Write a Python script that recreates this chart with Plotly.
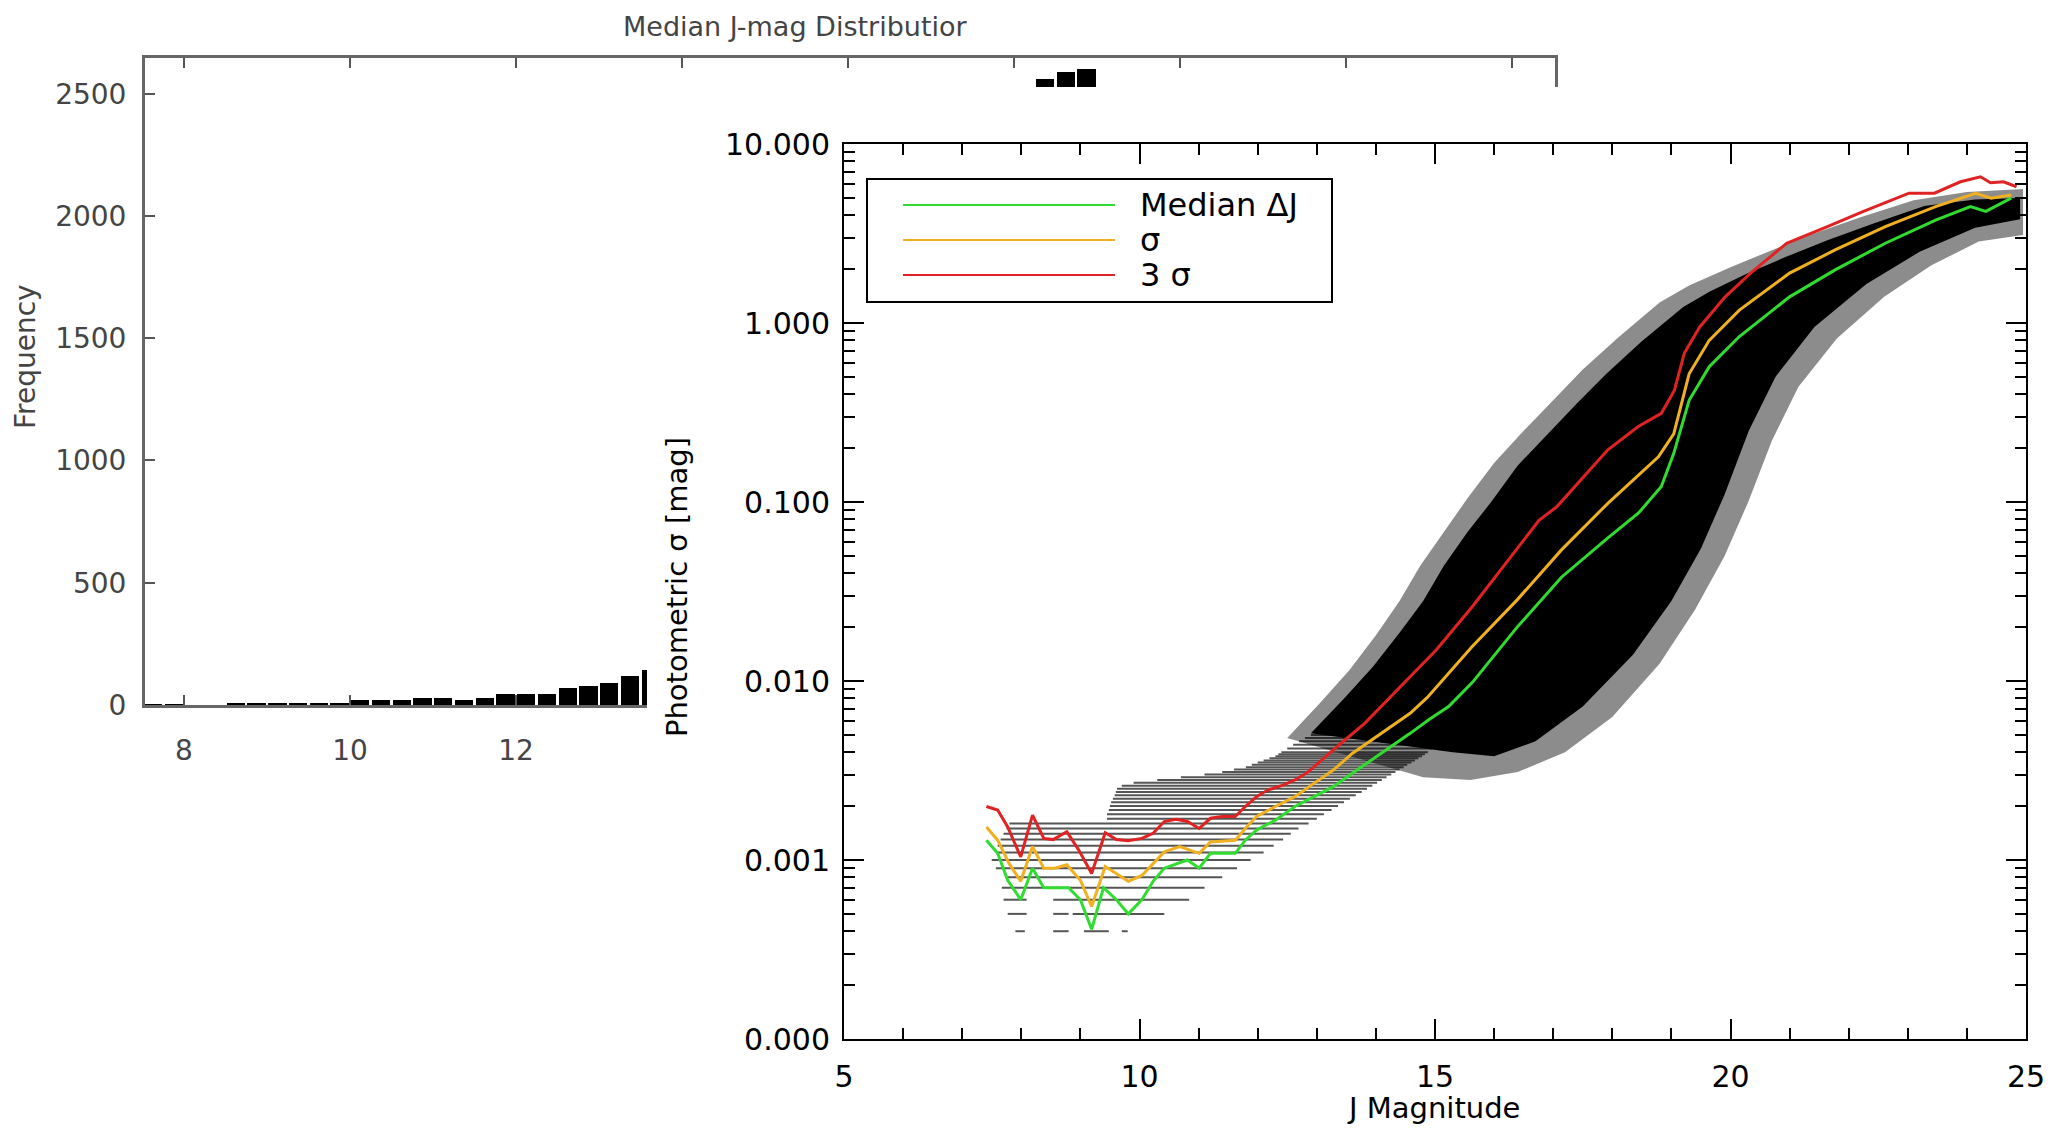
import plotly.graph_objects as go

# ---------------- Data ----------------
# Histogram (only the bins that are visible in the picture)
hist_bin_left = [7.5, 7.75, 8.5, 8.75, 9.0, 9.25, 9.5, 9.75,
                 10.0, 10.25, 10.5, 10.75, 11.0, 11.25, 11.5, 11.75,
                 12.0, 12.25, 12.5, 12.75, 13.0, 13.25, 13.5,
                 18.25, 18.5, 18.75]
hist_count = [4, 4, 5, 5, 5, 5, 5, 5,
              20, 20, 20, 30, 30, 20, 30, 45,
              45, 45, 70, 78, 88, 120, 143,
              2560, 2589, 2601]

# Curves
red_x = [7.41, 7.60, 7.77, 7.99, 8.19, 8.38, 8.54, 8.77, 8.97, 9.19, 9.42, 9.61, 9.81,
         10.04, 10.23, 10.42, 10.62, 10.81, 11.01, 11.20, 11.40, 11.62, 11.79, 11.98,
         12.17, 12.43, 12.63, 12.82, 13.02, 13.21, 13.41, 13.81, 14.42, 15.02, 15.63,
         16.23, 16.76, 17.06, 17.92, 18.44, 18.83, 19.05, 19.22, 19.48, 19.91, 20.34,
         20.95, 21.64, 22.24, 23.02, 23.45, 23.89, 24.23, 24.40, 24.62, 24.84]
red_y = [0.00199, 0.0019, 0.00153, 0.00104, 0.00178, 0.00132, 0.0013, 0.00144, 0.00114,
         0.00084, 0.00142, 0.0013, 0.00128, 0.00132, 0.00141, 0.00164, 0.00169, 0.00164,
         0.0015, 0.00171, 0.00175, 0.00175, 0.00199, 0.00226, 0.00246, 0.00262, 0.0028,
         0.00305, 0.00347, 0.00394, 0.00449, 0.0058, 0.0093, 0.0149, 0.026, 0.047, 0.079,
         0.094, 0.195, 0.264, 0.313, 0.42, 0.68, 0.95, 1.40, 1.90, 2.79, 3.45, 4.19, 5.31,
         5.31, 6.15, 6.56, 6.08, 6.15, 5.77]

orange_x = [7.41, 7.60, 7.79, 7.99, 8.19, 8.38, 8.57, 8.77, 9.00, 9.19, 9.42, 9.61, 9.81,
            10.04, 10.23, 10.42, 10.68, 11.01, 11.20, 11.62, 11.79, 11.98, 12.30, 12.63,
            12.95, 13.28, 13.60, 13.93, 14.25, 14.58, 14.87, 15.63, 16.39, 17.14, 17.92,
            18.78, 19.04, 19.30, 19.64, 20.15, 21.00, 21.77, 22.62, 23.47, 24.15, 24.41, 24.75]
orange_y = [0.00153, 0.00129, 0.00096, 0.00076, 0.00119, 0.0009, 0.0009, 0.00094, 0.00077,
            0.00055, 0.00092, 0.00084, 0.00076, 0.00082, 0.00096, 0.00111, 0.00119, 0.00109,
            0.00126, 0.00129, 0.0015, 0.00175, 0.00199, 0.00226, 0.00268, 0.00318, 0.00394,
            0.00468, 0.00556, 0.0066, 0.0081, 0.0156, 0.0284, 0.054, 0.098, 0.179, 0.24,
            0.52, 0.80, 1.18, 1.90, 2.56, 3.45, 4.47, 5.31, 4.98, 5.19]

green_x = [7.41, 7.60, 7.77, 7.99, 8.19, 8.38, 8.80, 9.00, 9.19, 9.39, 9.61, 9.81, 10.04,
           10.23, 10.42, 10.81, 11.01, 11.20, 11.62, 11.79, 11.98, 12.30, 12.63, 12.95,
           13.28, 13.60, 13.93, 14.25, 14.58, 14.90, 15.23, 15.63, 16.39, 17.14, 17.90,
           18.44, 18.83, 19.04, 19.30, 19.64, 20.15, 21.00, 21.77, 22.62, 23.47, 24.06,
           24.32, 24.75]
green_y = [0.00129, 0.00109, 0.00077, 0.0006, 0.0009, 0.0007, 0.0007, 0.0006, 0.00041,
           0.0007, 0.0006, 0.0005, 0.0006, 0.00076, 0.0009, 0.001, 0.0009, 0.00109, 0.00109,
           0.00129, 0.00147, 0.00167, 0.00199, 0.00226, 0.00257, 0.00305, 0.00362, 0.0043,
           0.0051, 0.0061, 0.0072, 0.0098, 0.020, 0.038, 0.062, 0.0865, 0.122, 0.187, 0.37,
           0.57, 0.84, 1.40, 1.98, 2.79, 3.76, 4.47, 4.2, 4.98]

# Dense point cloud envelope
core_upper_x = [12.9, 13.45, 13.95, 14.4, 14.8, 15.15, 15.55, 15.95, 16.4, 16.9, 17.4, 17.9,
                18.5, 19.2, 19.65, 20.3, 20.95, 21.64, 22.42, 23.28, 24.14, 24.9]
core_upper_y = [0.0051, 0.0079, 0.012, 0.0186, 0.028, 0.044, 0.068, 0.10, 0.16, 0.24, 0.355,
                0.52, 0.79, 1.23, 1.5, 1.9, 2.35, 2.9, 3.6, 4.5, 4.9, 5.0]
core_lower_x = [24.9, 24.14, 23.2, 22.3, 21.42, 20.76, 20.31, 19.9, 19.5, 19.0, 18.35, 17.5,
                16.7, 16.0, 15.3]
core_lower_y = [3.8, 3.4, 2.5, 1.65, 0.95, 0.5, 0.25, 0.11, 0.055, 0.028, 0.014, 0.0072,
                0.0046, 0.0038, 0.0040]

# Speckled outer fringe of the cloud
halo_upper_x = [12.5, 13.05, 13.55, 14.0, 14.4, 14.75, 15.15, 15.55, 16.0, 16.5, 17.0, 17.5,
                18.1, 18.8, 19.3, 20.0, 20.7, 21.4, 22.2, 23.1, 24.0, 24.95]
halo_upper_y = [0.0048, 0.0075, 0.0115, 0.018, 0.028, 0.044, 0.068, 0.105, 0.165, 0.25, 0.37,
                0.55, 0.83, 1.3, 1.62, 2.05, 2.55, 3.15, 3.9, 4.85, 5.4, 5.6]
halo_lower_x = [24.95, 24.2, 23.4, 22.6, 21.8, 21.15, 20.7, 20.3, 19.9, 19.4, 18.8, 18.0,
                17.2, 16.4, 15.6, 14.8]
halo_lower_y = [3.1, 2.85, 2.1, 1.4, 0.82, 0.44, 0.22, 0.1, 0.05, 0.025, 0.0125, 0.0063,
                0.0040, 0.0031, 0.0028, 0.0029]

# Quantised low-error streaks: level, start, end
streak_sigma = [0.0004, 0.0004, 0.0004, 0.0004, 0.0005, 0.0005, 0.0005, 0.0006, 0.0006,
                0.0007, 0.0008, 0.0009, 0.0010, 0.0011, 0.0012, 0.0013, 0.0014, 0.0015,
                0.0016, 0.0017, 0.0018, 0.0019, 0.0020, 0.0021, 0.0022, 0.0023, 0.0024,
                0.0025, 0.0026, 0.0027, 0.0028, 0.0029, 0.0030, 0.0031, 0.0032, 0.0033,
                0.0034, 0.0035, 0.0036, 0.0037, 0.0038, 0.0039, 0.0040, 0.0042, 0.0044,
                0.0046, 0.0048, 0.0050]
streak_x0 = [7.90, 8.54, 9.06, 9.70, 7.77, 8.54, 8.87, 7.70, 8.54,
             7.67, 7.77, 7.57, 7.50, 7.60, 7.60, 7.65, 7.70, 7.75,
             7.80, 9.45, 9.45, 9.48, 9.50, 9.52, 9.55, 9.58, 9.60,
             9.62, 9.70, 9.90, 10.30, 10.70, 11.10, 11.40, 11.60, 11.80,
             11.90, 12.00, 12.10, 12.20, 12.30, 12.35, 12.40, 12.50, 12.60,
             12.70, 12.80, 12.90]
streak_x1 = [8.06, 8.80, 9.48, 9.80, 8.09, 8.80, 10.42, 8.09, 10.84,
             11.10, 11.40, 11.65, 11.88, 12.10, 12.27, 12.43, 12.56, 12.69,
             12.86, 13.00, 13.12, 13.25, 13.36, 13.46, 13.56, 13.66, 13.76,
             13.85, 13.94, 14.02, 14.10, 14.18, 14.26, 14.33, 14.40, 14.47,
             14.53, 14.60, 14.66, 14.72, 14.78, 14.83, 14.88, 14.95, 15.00,
             15.05, 15.08, 15.10]

# Tick labels
hist_xticks = [8, 10, 12, 14, 16, 18, 20, 22, 24]
hist_yticks = [0, 500, 1000, 1500, 2000, 2500]
sc_xticks = [5, 10, 15, 20, 25]
sc_yticks = [0.0001, 0.001, 0.01, 0.1, 1, 10]
sc_yticktext = ["0.000", "0.001", "0.010", "0.100", "1.000", "10.000"]
sc_yminor = [m * d for d in [0.0001, 0.001, 0.01, 0.1, 1] for m in range(2, 10)]

FONT = "DejaVu Sans"
GREEN = "#2fdc2f"
ORANGE = "#f0b020"
RED = "#e02222"

fig = go.Figure()

# histogram
fig.add_trace(go.Bar(x=hist_bin_left, y=hist_count, offset=0.015, width=0.22,
                     marker=dict(color="black", line=dict(width=0)),
                     xaxis="x", yaxis="y", hoverinfo="skip"))

# cover panel (white background pasted over the histogram)
fig.add_trace(go.Scatter(x=[0.5], y=[0.5], mode="markers", marker=dict(opacity=0),
                         xaxis="x2", yaxis="y2", hoverinfo="skip"))

# streaks
sx, sy = [], []
for lvl, a, b in zip(streak_sigma, streak_x0, streak_x1):
    sx += [a, b, None]
    sy += [lvl, lvl, None]
fig.add_trace(go.Scatter(x=sx, y=sy, mode="lines", line=dict(color="#555555", width=2),
                         xaxis="x3", yaxis="y3", hoverinfo="skip"))

# cloud fringe & core
fig.add_trace(go.Scatter(x=halo_upper_x + halo_lower_x, y=halo_upper_y + halo_lower_y,
                         fill="toself", fillcolor="rgba(0,0,0,0.45)", mode="lines",
                         line=dict(width=0), xaxis="x3", yaxis="y3", hoverinfo="skip"))
fig.add_trace(go.Scatter(x=core_upper_x + core_lower_x, y=core_upper_y + core_lower_y,
                         fill="toself", fillcolor="black", mode="lines",
                         line=dict(width=0), xaxis="x3", yaxis="y3", hoverinfo="skip"))

# curves
for xs, ys, c in [(green_x, green_y, GREEN), (orange_x, orange_y, ORANGE), (red_x, red_y, RED)]:
    fig.add_trace(go.Scatter(x=xs, y=ys, mode="lines", line=dict(color=c, width=3),
                             xaxis="x3", yaxis="y3", hoverinfo="skip"))

W, H = 2061, 1128
def px(v): return v / W
def py(v): return 1 - v / H

hist_font = dict(family=FONT, size=28, color="#444444")
sc_font = dict(family=FONT, size=30, color="black")

fig.update_layout(
    width=W, height=H, autosize=False,
    margin=dict(l=0, r=0, t=0, b=0, pad=0, autoexpand=False),
    paper_bgcolor="white", plot_bgcolor="white",
    showlegend=False, bargap=0,
    xaxis=dict(domain=[px(145), px(1555)], range=[7.53, 24.52], anchor="y",
               tickmode="array", tickvals=hist_xticks, ticks="inside", ticklen=10,
               tickwidth=2, tickcolor="#555555", showline=True, linecolor="#666666",
               linewidth=3, mirror="ticks", showgrid=False, zeroline=False,
               tickfont=hist_font, ticklabelstandoff=18),
    yaxis=dict(domain=[py(705), py(58)], range=[0, 2646], anchor="x",
               tickmode="array", tickvals=hist_yticks, ticks="inside", ticklen=10,
               tickwidth=2, tickcolor="#555555", showline=True, linecolor="#666666",
               linewidth=3, mirror="ticks", showgrid=False, zeroline=False,
               tickfont=hist_font, ticklabelstandoff=10),
    xaxis2=dict(domain=[px(647), 1], range=[0, 1], visible=False, anchor="y2"),
    yaxis2=dict(domain=[0, py(87)], range=[0, 1], visible=False, anchor="x2"),
    xaxis3=dict(domain=[px(844), px(2026)], range=[5, 25], anchor="y3",
                tickmode="array", tickvals=sc_xticks, ticks="inside", ticklen=20,
                tickwidth=2, tickcolor="black",
                minor=dict(dtick=1, tick0=5, ticks="inside", ticklen=11, tickwidth=2,
                           tickcolor="black"),
                showline=True, linecolor="black", linewidth=2, mirror="ticks",
                showgrid=False, zeroline=False, tickfont=sc_font, ticklabelstandoff=10),
    yaxis3=dict(domain=[py(1039), py(144)], type="log", range=[-4, 1], anchor="x3",
                tickmode="array", tickvals=sc_yticks, ticktext=sc_yticktext,
                ticks="inside", ticklen=20, tickwidth=2, tickcolor="black",
                minor=dict(tickmode="array", tickvals=sc_yminor, ticks="inside", ticklen=11,
                           tickwidth=2, tickcolor="black"),
                showline=True, linecolor="black", linewidth=2, mirror="ticks",
                showgrid=False, zeroline=False, tickfont=sc_font, ticklabelstandoff=6),
)

# legend box
shapes = [dict(type="rect", xref="paper", yref="paper", x0=px(867), x1=px(1332),
               y0=py(302), y1=py(179), line=dict(color="black", width=2),
               fillcolor="white", layer="above")]
annos = []
for yy, c, t in [(205, GREEN, "Median ΔJ"), (240, ORANGE, "σ"), (275, RED, "3 σ")]:
    shapes.append(dict(type="line", xref="paper", yref="paper", x0=px(903), x1=px(1115),
                       y0=py(yy), y1=py(yy), line=dict(color=c, width=2), layer="above"))
    annos.append(dict(text=t, xref="paper", yref="paper", x=px(1138), y=py(yy),
                      xanchor="left", yanchor="middle", showarrow=False,
                      font=dict(family=FONT, size=32, color="black")))

annos += [
    dict(text="J Magnitude", xref="paper", yref="paper", x=px(1433), y=py(1108),
         xanchor="center", yanchor="middle", showarrow=False,
         font=dict(family=FONT, size=29, color="black")),
    dict(text="Photometric σ [mag]", xref="paper", yref="paper", x=px(677), y=py(587),
         xanchor="center", yanchor="middle", showarrow=False, textangle=-90,
         font=dict(family=FONT, size=29, color="black")),
    dict(text="Frequency", xref="paper", yref="paper", x=px(26), y=py(357),
         xanchor="center", yanchor="middle", showarrow=False, textangle=-90,
         font=dict(family=FONT, size=28, color="#444444")),
    dict(text="Median J-mag Distributior", xref="paper", yref="paper", x=px(795), y=py(26),
         xanchor="center", yanchor="middle", showarrow=False,
         font=dict(family=FONT, size=27, color="#444444")),
]
fig.update_layout(shapes=shapes, annotations=annos)

fig.write_html("out.html")
